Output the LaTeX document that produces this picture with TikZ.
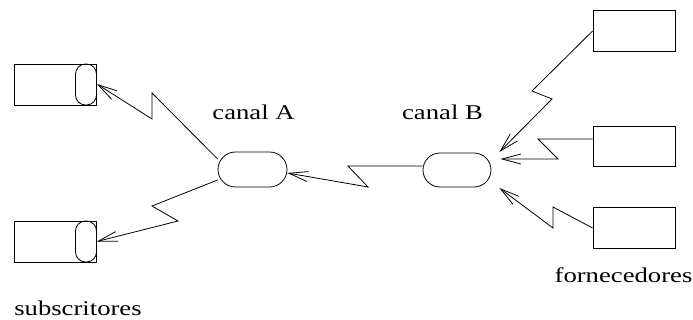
\documentclass[tikz,border=0pt]{standalone}
\usepackage{fontspec}
\setmainfont{Liberation Serif}
\usetikzlibrary{arrows.meta,calc,shapes.misc}
\newcommand\widetext[1]{\scalebox{1.27}[1]{#1}}
\begin{document}
\begin{tikzpicture}[x=1pt,y=-1pt,line width=0.8pt,
  boxnode/.style={draw,rectangle,minimum width=82pt,minimum height=41pt,inner sep=0pt},
  capnode/.style={draw,rectangle,rounded corners=10pt,minimum width=21pt,minimum height=41pt,inner sep=0pt},
  chan/.style={draw,rounded rectangle,minimum width=69pt,minimum height=35pt,inner sep=0pt},
  lab/.style={anchor=base,inner sep=0pt,font=\fontsize{21}{25}\selectfont},
  link/.style={-{Straight Barb[length=19pt,width=10pt]},line join=miter}]
\useasboundingbox (0,0) rectangle (693,320);
% subscribers
\node[boxnode] (subT) at (55,84.5) {};
\node[capnode] (capT) at (86,84.5) {};
\node[boxnode] (subB) at (55,241.5) {};
\node[capnode] (capB) at (86,241.5) {};
% channels
\node[chan] (chA) at (252.5,169.5) {};
\node[chan,minimum width=68pt,minimum height=34pt] (chB) at (457,170) {};
% suppliers
\node[boxnode] (supT) at (634,30.5) {};
\node[boxnode,minimum height=40pt] (supM) at (634,146) {};
\node[boxnode] (supB) at (634,227.5) {};
% labels
\node[lab] (labA) at (253.5,120) {\widetext{canal A}};
\node[lab] (labB) at (442.5,120) {\widetext{canal B}};
\node[lab] (labF) at (623.5,283) {\widetext{fornecedores}};
\node[lab] (labS) at (78,315) {\widetext{subscritores}};
% connectors
\draw[link] ($(chA.west)+(0,-10.5)$) -- (152,93) -- (152,119) -- ($(capT.east)+(0,-0.5)$);
\draw[link] ($(chA.west)+(0,10.5)$) -- (152,206) -- (178,221) -- ($(capB.east)+(0,0)$);
\draw[link] ($(chB.west)+(0,-4)$) -- (348,166) -- (368,187) -- ($(chA.east)+(0,3.5)$);
\draw[link] ($(supT.west)+(0,0.5)$) -- (532,91) -- (552,99) -- ($(chB.east)+(8,-18)$);
\draw[link] ($(supM.west)+(0,-7)$) -- (538,139) -- (558,159) -- ($(chB.east)+(9,-11)$);
\draw[link] ($(supB.west)+(0,0.5)$) -- (553,207) -- (553,228) -- ($(chB.east)+(8,18)$);
\end{tikzpicture}
\end{document}
